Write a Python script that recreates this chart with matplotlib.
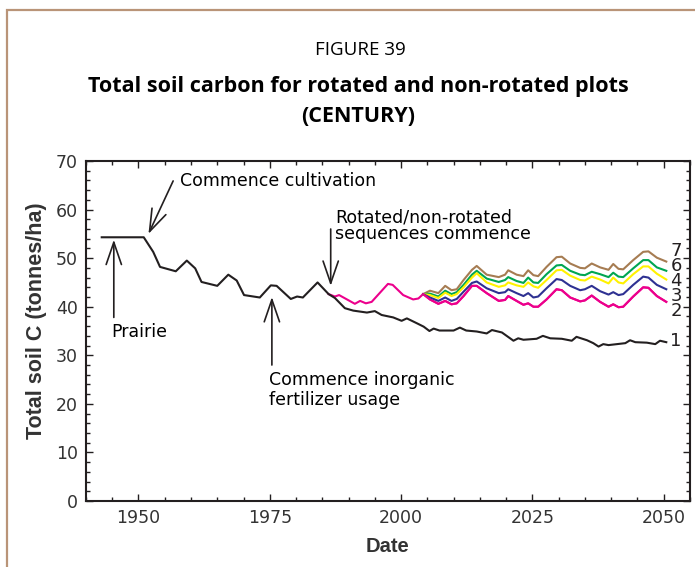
import matplotlib
matplotlib.use("Agg")
import matplotlib.pyplot as plt
from matplotlib.patches import Rectangle
from matplotlib.ticker import MultipleLocator

# non-rotated (1) series, incl. prairie period
black_years = [1943, 1951, 1952.8, 1954.1, 1957.1, 1959.2, 1960.8, 1962.0, 1965.0, 1967.1,
               1968.7, 1970.1, 1973.1, 1975.2, 1976.3, 1979.0, 1980.2, 1981.3, 1984.1, 1986.2,
               1987.4, 1989.3, 1990.9, 1993.5, 1995.0, 1996.3, 1998.5, 2000.1, 2001.1, 2003.0,
               2004.3, 2005.4, 2006.2, 2007.3, 2010.0, 2011.2, 2012.4, 2014.4, 2016.3, 2017.3,
               2019.2, 2021.4, 2022.3, 2023.3, 2025.8, 2027.0, 2028.4, 2030.6, 2032.5, 2033.4,
               2035.4, 2036.6, 2037.6, 2038.5, 2039.5, 2041.1, 2042.7, 2043.6, 2044.6, 2046.8,
               2048.4, 2049.3, 2050.5]
black_vals = [54.3, 54.3, 51.3, 48.2, 47.3, 49.5, 47.9, 45.1, 44.3, 46.6,
              45.4, 42.4, 41.9, 44.4, 44.3, 41.6, 42.1, 41.9, 45.0, 42.6,
              41.8, 39.7, 39.2, 38.8, 39.1, 38.3, 37.8, 37.1, 37.6, 36.6,
              35.9, 35.0, 35.5, 35.1, 35.1, 35.7, 35.1, 34.9, 34.5, 35.2,
              34.7, 33.0, 33.5, 33.2, 33.4, 34.0, 33.5, 33.4, 33.0, 33.8,
              33.1, 32.5, 31.8, 32.3, 32.1, 32.3, 32.5, 33.1, 32.7, 32.6,
              32.3, 33.0, 32.7]

# magenta before the rotations split off
pre_years = [1986.2, 1987.4, 1988.2, 1991.2, 1992.2, 1993.3, 1994.4, 1997.5, 1998.4,
             2000.4, 2002.3, 2003.3]
pre_vals = [42.6, 42.1, 42.4, 40.6, 41.2, 40.7, 41.0, 44.7, 44.5, 42.4, 41.5, 41.7]

rot_years = [2004.2, 2005.5, 2007.1, 2008.4, 2009.6, 2010.6, 2011.9, 2013.5, 2014.4, 2016.3,
             2018.6, 2019.8, 2020.4, 2022.0, 2023.3, 2024.2, 2025.2, 2026.1, 2027.7, 2029.6,
             2030.6, 2032.2, 2034.1, 2035.0, 2036.3, 2037.9, 2039.5, 2040.4, 2041.4, 2042.3,
             2044.2, 2046.1, 2047.1, 2048.7, 2050.5]
s2 = [42.6, 41.5, 40.6, 41.2, 40.5, 40.7, 42.2, 44.3, 44.3, 42.8, 41.2, 41.4, 42.2, 41.2, 40.4,
      40.7, 40.0, 40.0, 41.5, 43.6, 43.4, 41.9, 41.1, 41.3, 42.3, 41.0, 40.0, 40.5, 39.9, 40.0,
      42.1, 44.0, 43.9, 42.2, 41.0]
s3 = [42.6, 41.9, 41.2, 41.9, 41.2, 41.6, 43.1, 44.9, 45.2, 43.8, 42.8, 43.0, 43.6, 42.8, 42.2,
      42.8, 41.9, 42.1, 43.8, 45.7, 45.5, 44.3, 43.4, 43.6, 44.3, 43.2, 42.5, 43.0, 42.4, 42.6,
      44.5, 46.2, 46.0, 44.5, 43.6]
s4 = [42.6, 42.4, 41.8, 42.9, 42.2, 42.6, 44.0, 46.0, 46.9, 45.0, 44.1, 44.4, 45.0, 44.4, 44.1,
      45.0, 44.2, 43.9, 45.5, 47.5, 47.6, 46.4, 45.5, 45.4, 46.2, 45.6, 44.8, 46.0, 45.0, 44.8,
      46.7, 48.3, 48.3, 46.8, 45.6]
s6 = [42.6, 42.7, 42.1, 43.3, 42.6, 43.0, 44.5, 46.6, 47.4, 45.8, 45.1, 45.5, 46.1, 45.3, 44.9,
      46.0, 45.0, 44.9, 46.7, 48.5, 48.6, 47.4, 46.6, 46.5, 47.2, 46.7, 46.1, 47.0, 46.2, 46.1,
      47.9, 49.6, 49.6, 48.1, 47.4]
s7 = [42.6, 43.3, 42.8, 44.3, 43.4, 43.6, 45.5, 47.6, 48.4, 46.6, 46.1, 46.6, 47.5, 46.6, 46.3,
      47.5, 46.5, 46.3, 48.2, 50.2, 50.3, 48.9, 48.0, 47.9, 48.9, 48.1, 47.6, 48.8, 47.8, 47.7,
      49.6, 51.3, 51.4, 50.1, 49.3]

# end-of-line tags, top to bottom (rotated ones stacked, "1" on its own)
stack_labels = ["7", "6", "4", "3", "2"]
stack_top = 51.7
base_label = "1"
base_label_y = 32.9

BLACK = "#231f20"
MAGENTA = "#ec008c"
BLUE = "#2e3192"
YELLOW = "#fff200"
GREEN = "#00a651"
BROWN = "#a67c52"

ann_font = "DejaVu Sans"
ann_size = 12.5

fig = plt.figure(figsize=(6.95, 5.67), dpi=100)
ax = fig.add_axes([0.1237, 0.1164, 0.869, 0.5996])

# frame around the figure
fig.patches.append(Rectangle((0.010, -0.1), 1.2, 1.0824, transform=fig.transFigure,
                             fill=False, edgecolor="#b99478", lw=1.6))

fig.text(0.518, 0.912, "FIGURE 39", ha="center", va="center", fontsize=13.5,
         family="Open Sans")
fig.text(0.515, 0.847, "Total soil carbon for rotated and non-rotated plots", ha="center",
         va="center", fontsize=15.5, family="Open Sans", weight="bold")
fig.text(0.515, 0.795, "(CENTURY)", ha="center", va="center", fontsize=15.5,
         family="Open Sans", weight="bold")

lw = 1.5
ax.plot(pre_years + rot_years, pre_vals + s2, color=MAGENTA, lw=lw)
ax.plot(rot_years, s7, color=BROWN, lw=lw)
ax.plot(rot_years, s6, color=GREEN, lw=lw)
ax.plot(rot_years, s4, color=YELLOW, lw=lw)
ax.plot(rot_years, s3, color=BLUE, lw=lw)
ax.plot(rot_years, s2, color=MAGENTA, lw=lw)
ax.plot(black_years, black_vals, color=BLACK, lw=lw)

ax.text(2051.3, stack_top + 1.6, "\n".join(stack_labels), fontsize=13, family=ann_font,
        va="top", ha="left", color=BLACK, linespacing=0.785)
ax.text(2051.3, base_label_y, base_label, fontsize=13, family=ann_font, va="center",
        ha="left", color=BLACK)

arrow = dict(arrowstyle="->,head_length=1.6,head_width=0.55", color=BLACK, lw=1.2,
             mutation_scale=10, shrinkA=0, shrinkB=0)
ax.annotate("", xy=(1945.3, 53.8), xytext=(1945.3, 37.8), arrowprops=arrow)
ax.text(1944.9, 34.9, "Prairie", fontsize=ann_size, family=ann_font, va="center",
        ha="left")

ax.annotate("", xy=(1951.9, 55.0), xytext=(1956.6, 65.9), arrowprops=arrow)
ax.text(1957.9, 65.9, "Commence cultivation", fontsize=ann_size, family=ann_font,
        va="center", ha="left")

ax.annotate("", xy=(1975.4, 42.0), xytext=(1975.4, 28.0), arrowprops=arrow)
ax.text(1974.9, 26.7, "Commence inorganic\nfertilizer usage", fontsize=ann_size,
        family=ann_font, va="top", ha="left", linespacing=1.15)

ax.annotate("", xy=(1986.6, 44.3), xytext=(1986.6, 56.0), arrowprops=arrow)
ax.text(1987.4, 56.7, "Rotated/non-rotated\nsequences commence", fontsize=ann_size,
        family=ann_font, va="center", ha="left", linespacing=0.92)

ax.set_xlim(1940, 2055)
ax.set_ylim(0, 70)
ax.xaxis.set_major_locator(MultipleLocator(25))
ax.xaxis.set_minor_locator(MultipleLocator(5))
ax.yaxis.set_major_locator(MultipleLocator(10))
ax.yaxis.set_minor_locator(MultipleLocator(2))
ax.tick_params(which="both", direction="in", top=True, right=True, width=1.0,
               color=BLACK)
ax.tick_params(which="major", length=5)
ax.tick_params(which="minor", length=3)
ax.tick_params(axis="x", pad=6, labelsize=12.5)
ax.tick_params(axis="y", pad=6, labelsize=12.5)
for lab in ax.get_xticklabels() + ax.get_yticklabels():
    lab.set_family(ann_font)
    lab.set_color("#333333")
for sp in ax.spines.values():
    sp.set_linewidth(1.5)
    sp.set_color(BLACK)

ax.set_ylabel("Total soil C (tonnes/ha)", fontsize=15.5, weight="bold",
              family="Liberation Sans", color="#333333")
ax.yaxis.set_label_coords(-0.064, 0.53)
ax.set_xlabel("Date", fontsize=14.5, weight="bold", family="Liberation Sans",
              color="#333333")
ax.xaxis.set_label_coords(0.5, -0.106)

fig.savefig("out.png", dpi=100)
